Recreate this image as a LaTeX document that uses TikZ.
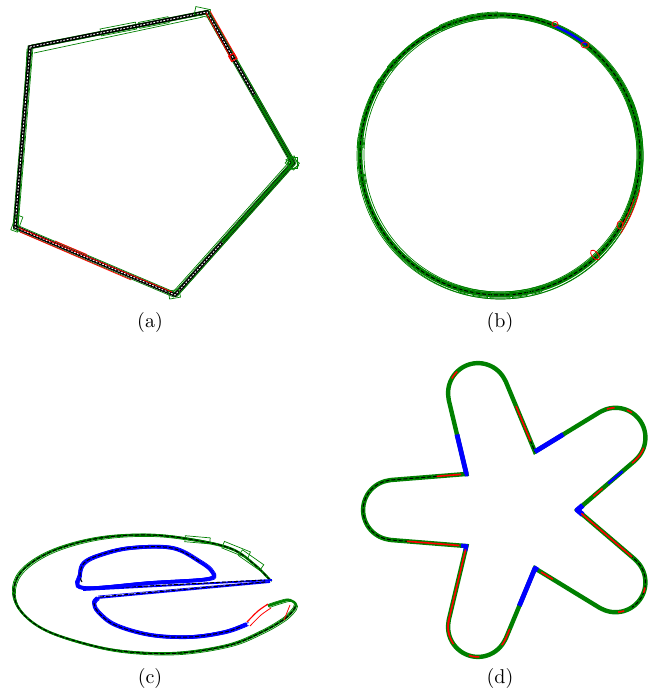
\documentclass[tikz,border=0pt]{standalone}
\usetikzlibrary{calc}
\definecolor{dg}{RGB}{0,128,0}
\newcommand\flowerseg[3]{\draw[#1] plot[domain=#2:#3,samples=40] ({516+frad(\x)*cos(\x)},{510-frad(\x)*sin(\x)});}
\begin{document}
\begin{tikzpicture}[x=0.5pt,y=-0.5pt,
  gthin/.style={draw=dg,line width=0.35pt},
  gthick/.style={draw=dg,line width=1.2pt},
  bdash/.style={draw=black,line width=0.5pt,dash pattern=on 2pt off 1pt},
  blthick/.style={draw=blue,line width=1.8pt},
  blthin/.style={draw=blue,line width=0.35pt},
  rthin/.style={draw=red,line width=0.4pt},
  lab/.style={font=\normalsize,inner sep=0pt},
  declare function={
    fphi(\t)=abs(mod(\t+720,72)-36);
    fside(\p)=40/(sin(\p)+0.08*cos(\p));
    fcap(\p)=123*cos(\p)+sqrt(max(894-(123*sin(\p))^2,0));
    frad(\t)=(tan(fphi(\t))>=0.2362) ? fside(fphi(\t)) : fcap(fphi(\t));
  }]
\useasboundingbox (0,0) rectangle (650,690);

% ---------------- (a) pentagon ----------------
\coordinate (A) at (30,47);
\coordinate (B) at (207,12);
\coordinate (C) at (293,163);
\coordinate (D) at (175,295);
\coordinate (E) at (15,227);
\foreach \dx/\dy in {0/0,2/1.5,-1.5/2,1.5/-2,-2/-1,3/0}
  \draw[gthin] ($(A)+(\dx,\dy)$)--($(B)+(\dx,\dy)$)--($(C)+(\dx,\dy)$)--($(D)+(\dx,\dy)$)--($(E)+(\dx,\dy)$)--cycle;
\draw[gthin] ($(A)+(4,6)$)--($(B)+(-4,5)$);
\draw[gthin] ($(A)+(-3,2)$)--($(E)+(3,1)$);
\draw[gthin] ($(C)+(-3,-2)$)--($(D)+(-2,-3)$);
\draw[gthin,rotate around={11:($(A)!0.5!(B)$)}] ($(A)!0.5!(B)+(-18,-4)$) rectangle ($(A)!0.5!(B)+(18,3)$);
\draw[gthin,rotate around={11:($(A)!0.7!(B)$)}] ($(A)!0.7!(B)+(-15,-3)$) rectangle ($(A)!0.7!(B)+(15,3)$);
\draw[black,line width=1.8pt] (A)--(B)--(C)--(D)--(E)--cycle;
\draw[white,line width=0.45pt,dash pattern=on 0.9pt off 0.8pt] (A)--(B)--(C)--(D)--(E)--cycle;
\draw[dg,line width=1.2pt] ($(B)!0.55!(C)$)--(C)--($(C)!0.6!(D)$);
\foreach \r in {0,25,50}
  \draw[gthin,rotate around={\r:(C)}] ($(C)+(-5,-6)$) rectangle ($(C)+(4,5)$);
\draw[gthin,rotate around={-20:(E)}] ($(E)+(-3,-12)$) rectangle ($(E)+(4,4)$);
\draw[gthin,rotate around={10:(D)}] ($(D)+(-6,-5)$) rectangle ($(D)+(5,3)$);
\draw[gthin,rotate around={-12:(B)}] ($(B)+(-12,-3)$) rectangle ($(B)+(3,5)$);
% red parts
\draw[rthin] ($(B)+(3,-1)$)--($(B)!0.3!(C)+(3,-1)$);
\draw[rthin] ($(B)+(-1,1)$)--($(B)!0.3!(C)+(-2,1)$);
\draw[red,line width=0.6pt,rotate around={30:($(B)!0.3!(C)$)}] ($(B)!0.3!(C)+(-3,-3)$) rectangle ($(B)!0.3!(C)+(3,3)$);
\draw[rthin] ($(E)+(4,1)$)--($(D)+(-3,-3)$);
\draw[rthin] ($(E)+(5,5)$)--($(E)!0.72!(D)+(1,4)$);
\draw[rthin] ($(E)!0.25!(D)+(0,-3)$)--($(E)!0.45!(D)+(0,-3)$);
\node[lab] (la) at (150,322) {(a)};

% ---------------- (b) circle ----------------
\coordinate (O) at (500,155);
\draw[dg,line width=2.4pt] (O) circle (140);
\foreach \dx/\dy/\r in {1/2/142,-1/-1/138,2/-1/141,-2/1/139,0/1/143,1/0/137}
  \draw[gthin] ($(O)+(\dx,\dy)$) circle (\r);
\draw[bdash] (O) circle (140);
\foreach \a/\w in {95/4,100/3,105/4,112/3,270/4,262/3,278/3,255/2,285/2,175/2,190/2,20/2,10/2,-5/3,140/2,150/2}
  \draw[gthin] plot[domain=\a-\w:\a+\w,samples=8] ({500+143*cos(\x)},{155-143*sin(\x)})
       -- plot[domain=\a+\w:\a-\w,samples=8] ({500+137*cos(\x)},{155-137*sin(\x)}) -- cycle;
\draw[blue,line width=1.2pt] plot[domain=52:67,samples=20] ({500+140*cos(\x)},{155-140*sin(\x)});
\draw[rthin] (585,45) ellipse (4 and 3);
\draw[rthin] (555,24) ellipse (3 and 2.5);
\draw[rthin] plot[domain=-14:-33,samples=20] ({500+144*cos(\x)},{155-144*sin(\x)});
\draw[rthin] plot[domain=-18:-30,samples=20] ({500+141*cos(\x)},{155-141*sin(\x)});
\draw[rthin] (620,225) ellipse (3 and 4);
\draw[rthin,rotate around={40:(595,255)}] (595,255) ellipse (3 and 6);
\node[lab] (lb) at (500,322) {(b)};

% ---------------- (c) letter e ----------------
\foreach \dx/\dy in {0/0,1.5/1.5,-1.5/-1}
\draw[gthin,shift={(\dx,\dy)}] plot[smooth,tension=0.6] coordinates {(270,580) (255,565) (232,549) (195,540) (150,535) (100,538) (55,550) (25,568) (14,588) (20,610) (45,630) (90,645) (130,652) (180,653) (230,645) (262,632) (283,620) (292,612) (296,605) (290,600) (280,602) (268,606)};
\draw[gthick] plot[smooth,tension=0.6] coordinates {(270,580) (255,565) (232,549) (195,540) (150,535) (100,538) (55,550) (25,568) (14,588) (20,610) (45,630) (90,645) (130,652) (180,653) (230,645) (262,632) (283,620) (292,612) (296,605) (290,600) (280,602) (268,606)};
\draw[bdash] plot[smooth,tension=0.6] coordinates {(270,580) (255,565) (232,549) (195,540) (150,535) (100,538) (55,550) (25,568) (14,588) (20,610) (45,630) (90,645) (130,652) (180,653) (230,645) (262,632) (283,620) (292,612) (296,605)};
\draw[gthin,rotate around={-22:(235,550)}] (222,546) rectangle (250,553);
\draw[gthin,rotate around={-35:(250,560)}] (238,556) rectangle (264,563);
\draw[gthin,rotate around={-5:(200,540)}] (185,537) rectangle (210,543);
\draw[red,line width=0.6pt] plot[smooth] coordinates {(268,604) (258,611) (247,622)};
\draw[rthin] plot[smooth] coordinates {(271,608) (261,615) (250,626)};
\draw[rthin] (290,605)--(284,620);
% inner bowl
\foreach \dx/\dy in {0/0,1.5/1.5,-1.5/-1.2,1.5/-1.5}
\draw[blthin,shift={(\dx,\dy)}] plot[smooth,tension=0.6] coordinates {(247,624) (225,632) (190,637) (150,635) (115,625) (98,612) (94,603) (98,598)};
\draw[blthick] plot[smooth,tension=0.6] coordinates {(247,624) (225,632) (190,637) (150,635) (115,625) (98,612) (94,603) (98,598)};
\draw[bdash] plot[smooth,tension=0.6] coordinates {(240,627) (225,632) (190,637) (150,635) (115,625) (98,612) (94,603)};
% bar
\draw[blue,line width=0.9pt] (98,598)--(270,582);
\draw[blue,line width=0.9pt] (83,590)--(272,580);
\draw[blthin] (98,596)--(270,581);
\draw[bdash] (100,597)--(265,582);
\draw[bdash] (90,589)--(265,580);
% eye
\foreach \dx/\dy in {0/0,1.5/1.5,-1.5/-1.2,1.5/-1.5}
\draw[blthin,shift={(\dx,\dy)}] plot[smooth cycle,tension=0.6] coordinates {(83,588) (80,575) (84,563) (100,555) (130,548) (172,548) (200,562) (212,572) (208,579) (150,583)};
\draw[blthick] plot[smooth cycle,tension=0.6] coordinates {(83,588) (80,575) (84,563) (100,555) (130,548) (172,548) (200,562) (212,572) (208,579) (150,583)};
\draw[bdash] plot[smooth,tension=0.6] coordinates {(82,582) (80,575) (84,563) (100,555) (130,548) (172,548) (200,562)};
\node[lab] (lc) at (150,678) {(c)};

% ---------------- (d) flower ----------------
\draw[dg,line width=2.2pt] plot[domain=0:360,samples=721] ({516+frad(\x)*cos(\x)},{510-frad(\x)*sin(\x)}) -- cycle;
\flowerseg{bdash}{150}{200}
\flowerseg{bdash}{-10}{-40}
\flowerseg{bdash}{70}{90}
% blue near valleys
\flowerseg{blue,line width=2.4pt}{128}{145}
\flowerseg{blue,line width=2.4pt}{58}{72}
\flowerseg{blue,line width=2.6pt}{-4}{4}
\flowerseg{blue,line width=2.4pt}{-88}{-70}
\flowerseg{blue,line width=2pt}{213}{219}
\flowerseg{blue,line width=1.2pt}{16}{20}
% red pieces
\flowerseg{red,line width=0.8pt}{147}{157}
\flowerseg{red,line width=0.8pt}{196}{212}
\flowerseg{red,line width=0.8pt}{78}{90}
\flowerseg{red,line width=0.8pt}{-3}{-22}
\flowerseg{red,line width=0.8pt}{10}{14}
\flowerseg{red,line width=0.8pt}{22}{26}
\flowerseg{red,line width=0.8pt}{218}{245}
\flowerseg{red,line width=0.8pt}{-62}{-68}
\flowerseg{red,line width=0.8pt}{-108}{-104}
\flowerseg{red,line width=0.8pt}{-96}{-93}
\flowerseg{red,line width=0.8pt}{113}{116}
\flowerseg{red,line width=0.8pt}{40}{42}
\flowerseg{red,line width=0.8pt}{46}{48}
\flowerseg{red,line width=0.8pt}{-31}{-33}
\flowerseg{red,line width=0.8pt}{-43}{-45}
\flowerseg{red,line width=0.8pt}{-120}{-122}
\flowerseg{red,line width=0.8pt}{240}{242}
\node[lab] (ld) at (500,678) {(d)};
\end{tikzpicture}
\end{document}
